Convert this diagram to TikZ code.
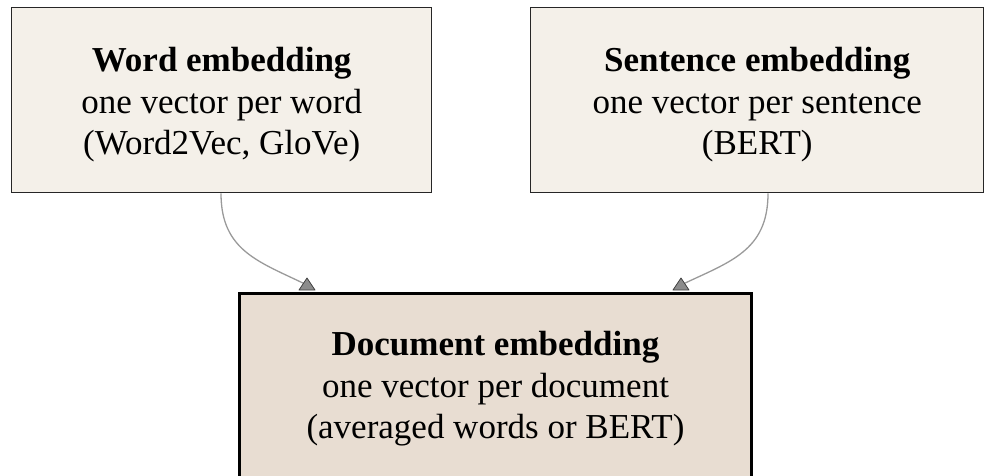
\documentclass[tikz,border=0pt]{standalone}
\usepackage{fontspec}
\usetikzlibrary{calc}
\setmainfont{Liberation Serif}
\definecolor{paper}{HTML}{F4F0E9}
\definecolor{docfill}{HTML}{E8DDD2}
\definecolor{edgegray}{HTML}{9A9A9A}
\definecolor{tipgray}{HTML}{8C8C8C}
\tikzset{
  x=1pt, y=-1pt,
  boxtext/.style={inner sep=0pt, align=center, font=\fontsize{35}{41.5}\selectfont},
  inbox/.style={draw=black!85, line width=1.4pt, fill=paper, anchor=north west,
    inner sep=0pt},
  outbox/.style={draw=black, line width=3pt, fill=docfill, anchor=north west,
    inner sep=0pt},
  link/.style={draw=edgegray, line width=1.3pt},
  tiptri/.style={fill=tipgray, draw=black!75, line width=0.8pt, line join=round}
}
\begin{document}
\begin{tikzpicture}
\useasboundingbox (0,0) rectangle (993,475);
% input representations
\node[inbox, minimum width=420pt, minimum height=185pt] (word) at (11,7) {};
\node[boxtext] (wordtext) at ($(word.center)+(0,4.5)$)
  {\textbf{Word embedding}\\one vector per word\\(Word2Vec, GloVe)};
\node[inbox, minimum width=453pt, minimum height=185pt] (sent) at (530,7) {};
\node[boxtext] (senttext) at ($(sent.center)+(0,4.5)$)
  {\textbf{Sentence embedding}\\one vector per sentence\\(BERT)};
% resulting representation
\node[outbox, minimum width=512pt, minimum height=198pt] (doc) at (238,292) {};
\node[boxtext] (doctext) at ($(doc.north)+(0,97)$)
  {\textbf{Document embedding}\\one vector per document\\(averaged words or BERT)};
% connector end points on the box edges
\coordinate (wout) at ($(word.south west)+(210,0)$);
\coordinate (sout) at ($(sent.south west)+(238,0)$);
\coordinate (dinl) at ($(doc.north west)+(69,-7)$);
\coordinate (dinr) at ($(doc.north west)+(443,-7)$);
% connectors
\draw[link] (wout) .. controls ($(wout)+(0,58)$) and ($(dinl)+(-47,-23)$) .. (dinl);
\draw[link] (sout) .. controls ($(sout)+(0,58)$) and ($(dinr)+(48,-23)$) .. (dinr);
% arrowheads on the document box
\path[tiptri] ($(dinl)+(0,-7)$) -- ($(dinl)+(8,5)$) -- ($(dinl)+(-8,5)$) -- cycle;
\path[tiptri] ($(dinr)+(0,-7)$) -- ($(dinr)+(8,5)$) -- ($(dinr)+(-8,5)$) -- cycle;
\end{tikzpicture}
\end{document}
